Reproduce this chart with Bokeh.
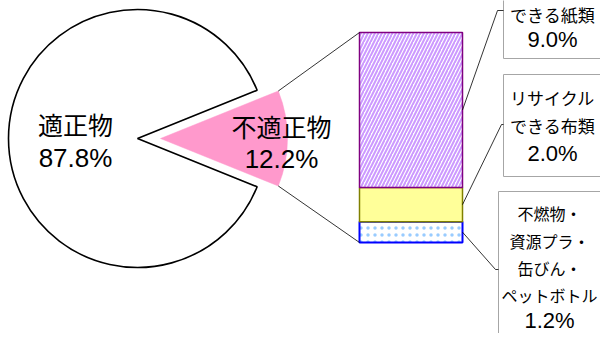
import math
from bokeh.plotting import figure
from bokeh.models import Range1d
from bokeh.core.properties import value
from bokeh.embed import file_html
from bokeh.resources import INLINE

# ---------------- data ----------------
main_categories = ["適正物", "不適正物"]
main_shares = [87.8, 12.2]
main_pct_labels = ["87.8%", "12.2%"]

detail_categories = ["リサイクルできる紙類", "リサイクルできる布類", "不燃物・資源プラ・缶びん・ペットボトル"]
detail_shares = [9.0, 2.0, 1.2]
detail_pct_labels = ["9.0%", "2.0%", "1.2%"]
detail_label_lines = [
    ["できる紙類"],
    ["リサイクル", "できる布類"],
    ["不燃物・", "資源プラ・", "缶びん・", "ペットボトル"],
]

# ---------------- layout (pixel-like coords, y up) ----------------
W, H = 600, 333
def Y(img_y):
    return H - img_y

p = figure(width=W, height=H, output_backend="svg", toolbar_location=None,
           x_range=Range1d(0, W), y_range=Range1d(0, H),
           min_border=0)
p.axis.visible = False
p.grid.visible = False
p.outline_line_color = None
p.background_fill_color = "white"

cjk = value("Noto Sans CJK JP")
lat = value("Liberation Sans")

# pie
cx, cy, R = 137, Y(138), 129
total = sum(main_shares)
half = main_shares[1] / total * math.pi  # half angle of small slice
explode = 23
p.wedge(x=[cx], y=[cy], radius=R, start_angle=half, end_angle=2 * math.pi - half,
        fill_color="white", line_color="black", line_width=1.6)
sx = cx + explode
r_small = 127
p.wedge(x=[sx], y=[cy], radius=r_small, start_angle=-half, end_angle=half,
        fill_color="#FF99CC", line_color="#FF99CC", line_width=0.5)

# stacked bar
bar_x, bar_w = 410.5, 103
bar_bottom, bar_height = Y(242), 210
k = bar_height / sum(detail_shares)
order = [2, 1, 0]  # bottom to top
styles = {
    0: dict(fill_color="white", line_color="#800080", line_width=1.5,
            hatch_pattern="/", hatch_color="#CC99FF", hatch_scale=7, hatch_weight=2.0),
    1: dict(fill_color="#FFFF99", line_color="#808000", line_width=1.5),
    2: dict(fill_color="white", line_color="#0000FF", line_width=2,
            hatch_pattern=".", hatch_color="#99CCFF", hatch_scale=7, hatch_weight=1.5),
}
seg_mid = {}
b = bar_bottom
for i in order:
    t = b + detail_shares[i] * k
    p.vbar(x=[bar_x], width=bar_w, bottom=[b], top=[t], **styles[i])
    seg_mid[i] = (b + t) / 2
    b = t
bar_top = b
bar_left = bar_x - bar_w / 2
bar_right = bar_x + bar_w / 2

# connector lines from small slice to bar
ex = sx + r_small * math.cos(half)
ey_top = cy + r_small * math.sin(half)
ey_bot = cy - r_small * math.sin(half)
p.segment(x0=[ex, ex], y0=[ey_top, ey_bot], x1=[bar_left, bar_left], y1=[bar_top, bar_bottom],
          line_color="black", line_width=0.8)

# pie labels
p.text(x=[75, 281], y=[Y(123), Y(125)], text=main_categories, text_font=cjk,
       text_font_size=value("25px"), text_align="center", text_baseline="middle", text_color="black")
p.text(x=[75, 281], y=[Y(157), Y(158)], text=main_pct_labels, text_font=lat,
       text_font_size=value("26px"), text_align="center", text_baseline="middle", text_color="black")

# label boxes: (left, top_img, bottom_img), anchor
boxes = [
    (503, -60, 58),
    (503, 74, 176),
    (498, 191, 380),
]
anchors = [((497, 10), (503, 10)), ((501, 124), (503, 124)), ((495, 269), (498, 269))]
line_ys = [[14], [97, 125], [212, 240, 267, 294]]
pct_y = [39, 153, 320]
tx = [552, 552, 549]
cjk_sizes = ["17px", "17px", "16px"]

for i in range(3):
    l, ti, bi = boxes[i]
    p.quad(left=[l], right=[680], top=[Y(ti)], bottom=[Y(bi)],
           fill_color="white", line_color="#A6A6A6", line_width=1)
    (ax, ay), (bx, by) = anchors[i]
    p.line(x=[bar_right, ax, bx], y=[seg_mid[i], Y(ay), Y(by)], line_color="black", line_width=0.8)
    lines = detail_label_lines[i]
    ys = [Y(v) for v in line_ys[i]]
    p.text(x=[tx[i]] * len(lines), y=ys, text=lines, text_font=cjk,
           text_font_size=value(cjk_sizes[i]), text_align="center", text_baseline="middle",
           text_color="black")
    p.text(x=[tx[i]], y=[Y(pct_y[i])], text=[detail_pct_labels[i]], text_font=lat,
           text_font_size=value("22px"), text_align="center", text_baseline="middle", text_color="black")

open("out.html", "w").write(file_html(p, INLINE))
